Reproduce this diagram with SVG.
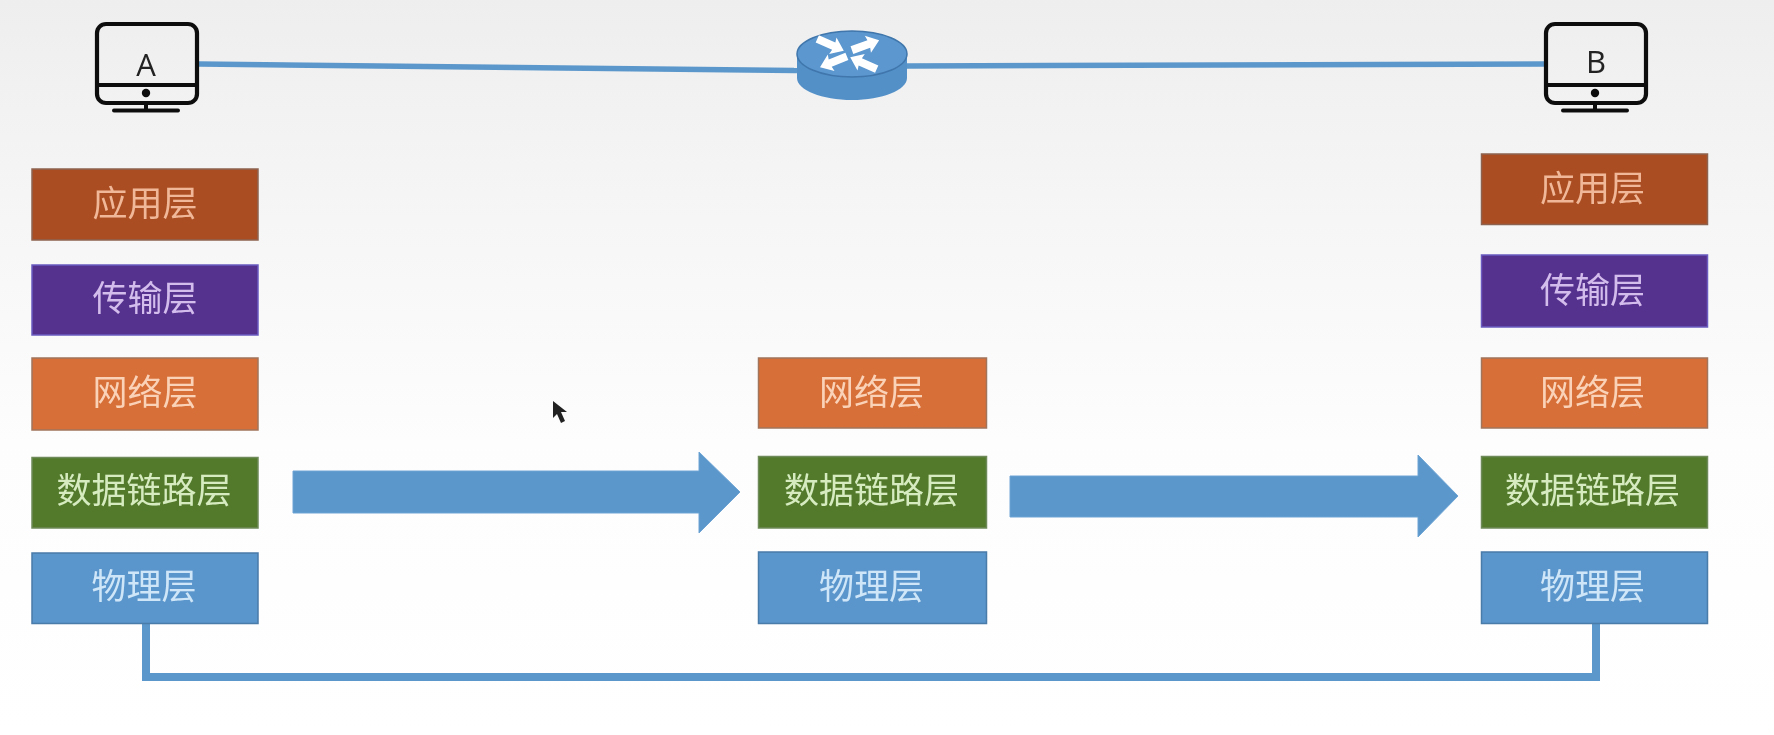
<svg xmlns="http://www.w3.org/2000/svg" width="1774" height="735" viewBox="0 0 1774 735">
<defs>
<linearGradient id="bg" x1="0" y1="0" x2="0" y2="1">
<stop offset="0" stop-color="#eeeeee"/>
<stop offset="0.3" stop-color="#f6f6f6"/>
<stop offset="0.6" stop-color="#fdfdfd"/>
<stop offset="1" stop-color="#ffffff"/>
</linearGradient>
<filter id="soft" x="-5%" y="-5%" width="110%" height="110%"><feGaussianBlur stdDeviation="0.7"/></filter>
<g id="monitor">
<rect x="2" y="2" width="100" height="79" rx="9" fill="none" stroke="#111" stroke-width="4.200"/>
<path d="M2 63H102M51 81V88M19 88.500H83" fill="none" stroke="#111" stroke-width="4" stroke-linecap="round"/>
<circle cx="51" cy="71" r="4.200" fill="#111"/>
</g>
<path id="rarrow" d="M-15 -4L3 -4L2 -9L14 0L2 9L3 4L-15 4Z" fill="#ffffff"/>
</defs>
<style>
.box{stroke-width:1.5}
.t{font-family:"Noto Sans CJK SC","Noto Sans",sans-serif;font-size:35px;font-weight:400;text-anchor:middle}
.m{font-family:"Open Sans","Liberation Sans",sans-serif;font-size:31px;fill:#222;text-anchor:middle}
.app{fill:#ab4e22;stroke:#8d6350}.app+text{fill:#f0b898}
.tra{fill:#57308f;stroke:#6a5cc0}.tra+text{fill:#d3bdec}
.net{fill:#d76f38;stroke:#a0745c}.net+text{fill:#fad2b8}
.dll{fill:#537a2c;stroke:#6e8a58}.dll+text{fill:#d6ecc0}
.phy{fill:#5a95cb;stroke:#4a7ba8}.phy+text{fill:#cfe6f8}
.wire{fill:none;stroke:#5b97cb}
.arrow{fill:#5b97cb;stroke:#6ea4d4;stroke-width:1}
</style>
<rect width="1774" height="735" fill="url(#bg)"/>
<g filter="url(#soft)">
<g id="connectors">
<path class="wire" stroke-width="5.500" d="M199 64L797 70.500"/>
<path class="wire" stroke-width="5.500" d="M907 66L1545 64"/>
<path class="wire" stroke-width="8" stroke-linejoin="miter" d="M146 624V677H1596V624"/>
<path id="arrow-1" class="arrow" d="M293 471H699V452L740 492L699 533V513H293Z"/>
<path id="arrow-2" class="arrow" d="M1010 476H1418V455L1458 496L1418 537V517H1010Z"/>
</g>
<g id="host-a"><use href="#monitor" x="95" y="22"/><text class="m" x="146" y="76" font-weight="500">A</text></g>
<g id="host-b"><use href="#monitor" x="1544" y="22"/><text class="m" x="1596" y="73" font-weight="500">B</text></g>
<g id="router">
<path d="M797 54V78C797 90 822 100 852 100C882 100 907 90 907 78V54Z" fill="#5390c8"/>
<ellipse cx="852" cy="54" rx="55" ry="23" fill="#5b97cf" stroke="#3f76ab" stroke-width="1.500"/>
<use href="#rarrow" transform="translate(831 45) rotate(24)"/>
<use href="#rarrow" transform="translate(866 45) rotate(-20)"/>
<use href="#rarrow" transform="translate(833 62) rotate(158)"/>
<use href="#rarrow" transform="translate(863 63) rotate(204)"/>
</g>
<g id="a-app"><rect class="box app" x="32" y="169" width="226" height="71"/><text class="t" x="145" y="216">应用层</text></g>
<g id="a-trans"><rect class="box tra" x="32" y="265" width="226" height="70"/><text class="t" x="145" y="311">传输层</text></g>
<g id="a-net"><rect class="box net" x="32" y="358" width="226" height="72"/><text class="t" x="145" y="405">网络层</text></g>
<g id="a-link"><rect class="box dll" x="32" y="457.500" width="226" height="70.500"/><text class="t" x="144" y="503">数据链路层</text></g>
<g id="a-phy"><rect class="box phy" x="32" y="553" width="226" height="70.500"/><text class="t" x="144" y="599">物理层</text></g>
<g id="r-net"><rect class="box net" x="758.500" y="358" width="228" height="70"/><text class="t" x="871.500" y="405">网络层</text></g>
<g id="r-link"><rect class="box dll" x="758.500" y="456.500" width="228" height="71.500"/><text class="t" x="871.500" y="503">数据链路层</text></g>
<g id="r-phy"><rect class="box phy" x="758.500" y="552" width="228" height="71.500"/><text class="t" x="871.500" y="599">物理层</text></g>
<g id="b-app"><rect class="box app" x="1481.500" y="154" width="226" height="70.500"/><text class="t" x="1592.500" y="201">应用层</text></g>
<g id="b-trans"><rect class="box tra" x="1481.500" y="255" width="226" height="72"/><text class="t" x="1592.500" y="303">传输层</text></g>
<g id="b-net"><rect class="box net" x="1481.500" y="358" width="226" height="70"/><text class="t" x="1592.500" y="405">网络层</text></g>
<g id="b-link"><rect class="box dll" x="1481.500" y="456.500" width="226" height="71.500"/><text class="t" x="1592.500" y="503">数据链路层</text></g>
<g id="b-phy"><rect class="box phy" x="1481.500" y="552" width="226" height="71.500"/><text class="t" x="1592.500" y="599">物理层</text></g>
<path id="cursor" d="M553 401L553 418L557 414L561 423L565 421L561 412L567 412Z" fill="#222"/>
</g>
</svg>
